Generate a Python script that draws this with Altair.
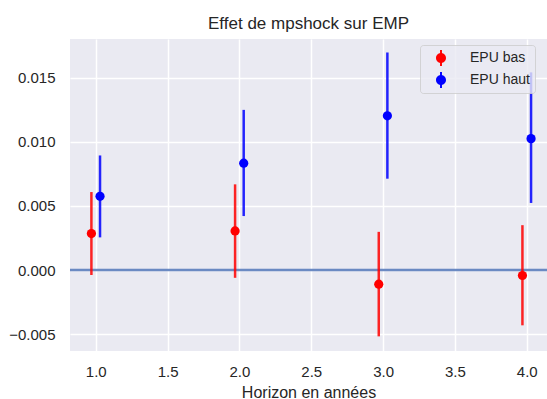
import altair as alt
import pandas as pd

horizons = [1, 2, 3, 4]
series_names = ["EPU bas", "EPU haut"]
offsets = [-0.03, 0.03]

bas_value = [0.00285, 0.00305, -0.00110, -0.00042]
bas_lower = [-0.00038, -0.00060, -0.00516, -0.00430]
bas_upper = [0.00608, 0.00668, 0.00298, 0.00350]

haut_value = [0.00575, 0.00833, 0.01202, 0.01024]
haut_lower = [0.00255, 0.00421, 0.00712, 0.00523]
haut_upper = [0.00893, 0.01248, 0.01695, 0.01540]

rows = []
for name, off, vals, lo, hi in [
    (series_names[0], offsets[0], bas_value, bas_lower, bas_upper),
    (series_names[1], offsets[1], haut_value, haut_lower, haut_upper),
]:
    for h, v, l, u in zip(horizons, vals, lo, hi):
        rows.append({"horizon": h, "offset": off, "serie": name, "value": v, "lower": l, "upper": u})
df = pd.DataFrame(rows)
zero_df = pd.DataFrame({"y": [0.0]})

FONT = "Liberation Sans"
TXT = "#262626"

xscale = alt.Scale(domain=[0.821, 4.141], nice=False, zero=False)
yscale = alt.Scale(domain=[-0.0063, 0.0180], nice=False, zero=False)
color_scale = alt.Scale(domain=series_names, range=["#ff0000", "#0000ff"])

legend_symbol = (
    "M -0.625,0 A 0.625,0.625 0 1,1 0.625,0 A 0.625,0.625 0 1,1 -0.625,0 Z "
    "M -0.12,-1 L 0.12,-1 L 0.12,1 L -0.12,1 Z"
)

legend = alt.Legend(
    title=None,
    orient="none",
    legendX=350,
    legendY=6,
    symbolType=legend_symbol,
    symbolSize=256,
    symbolStrokeWidth=0,
    symbolOpacity=1,
    symbolOffset=8,
    labelOffset=21,
    labelFont=FONT,
    labelFontSize=14,
    labelColor=TXT,
    padding=5,
    rowPadding=6,
    fillColor="rgba(234,234,242,0.8)",
    strokeColor="rgba(204,204,204,0.8)",
    cornerRadius=3,
)

base = alt.Chart(df).transform_calculate(xpos="datum.horizon + datum.offset")

zero_line = alt.Chart(zero_df).mark_rule(color="#5b7dbd", strokeWidth=2.5, opacity=0.9).encode(
    y=alt.Y("y:Q", scale=yscale)
)

err = base.mark_rule(strokeWidth=2.5, opacity=0.85).encode(
    x=alt.X("xpos:Q", scale=xscale),
    y=alt.Y("lower:Q", scale=yscale),
    y2="upper:Q",
    color=alt.Color("serie:N", scale=color_scale, legend=legend),
)

pts = base.mark_circle(size=85, opacity=1).encode(
    x=alt.X(
        "xpos:Q",
        scale=xscale,
        title="Horizon en années",
        axis=alt.Axis(values=[1.0, 1.5, 2.0, 2.5, 3.0, 3.5, 4.0], format=".1f"),
    ),
    y=alt.Y(
        "value:Q",
        scale=yscale,
        title=None,
        axis=alt.Axis(values=[-0.005, 0.0, 0.005, 0.010, 0.015], format=".3f"),
    ),
    color=alt.Color("serie:N", scale=color_scale, legend=legend),
)

chart = (
    alt.layer(zero_line, err, pts)
    .properties(
        width=477,
        height=312,
        autosize=alt.AutoSizeParams(type="none"),
        padding={"left": 70, "top": 39, "right": 0, "bottom": 48},
        title=alt.TitleParams(
            "Effet de mpshock sur EMP",
            font=FONT,
            fontSize=17,
            fontWeight="normal",
            color=TXT,
            anchor="middle",
            frame="group",
            baseline="alphabetic",
            offset=11,
            dy=18,
        ),
    )
    .configure_view(fill="#EAEAF2", stroke=None)
    .configure_axis(
        domain=False,
        ticks=False,
        grid=True,
        gridColor="white",
        gridWidth=1.5,
        labelFont=FONT,
        labelFontSize=15,
        labelColor=TXT,
        titleFont=FONT,
        titleFontSize=16,
        titleFontWeight="normal",
        titleColor=TXT,
    )
    .configure_axisX(labelPadding=13, titlePadding=5)
    .configure_axisY(labelPadding=15)
)

chart.save("out.html", embed_options={"renderer": "svg", "actions": False})
